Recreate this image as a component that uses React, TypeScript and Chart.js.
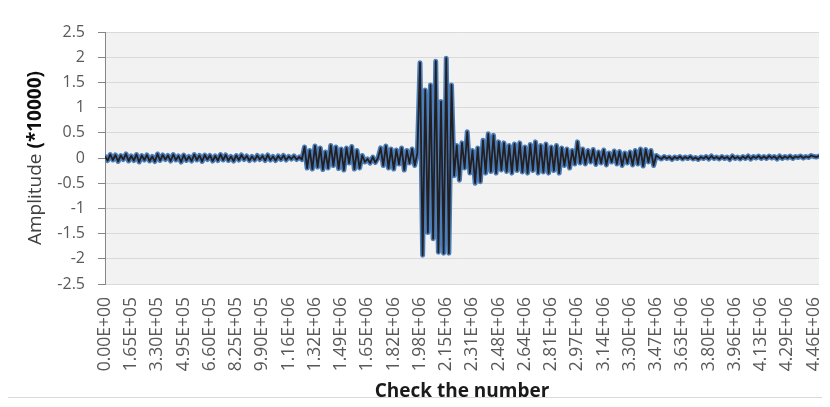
import React, { useEffect, useRef } from 'react';
import { Chart, registerables } from 'chart.js';

Chart.register(...registerables);

// Check-number step between samples and between labelled ticks
const SAMPLE_STEP = 16500;
const LABEL_STEP = 165000;
const LABEL_COUNT = 28;

// Amplitude (*10000) samples
const baselineNoise = [
  0.03, -0.05, 0.07, -0.04, 0.06, -0.07, 0.05, -0.03, 0.08, -0.06,
  0.04, -0.05, 0.07, -0.08, 0.05, -0.04, 0.06, -0.06, 0.03, -0.07,
  0.08, -0.05, 0.06, -0.03, 0.05, -0.06, 0.07, -0.04, 0.04, -0.08,
  0.06, -0.05, 0.03, -0.06, 0.07, -0.04, 0.05, -0.07, 0.06, -0.03,
  0.05, -0.06, 0.04, -0.05, 0.07, -0.04, 0.06, -0.05, 0.03, -0.06,
  0.05, -0.04, 0.06, -0.03, 0.04, -0.05, 0.03, -0.04, 0.05, -0.03,
  0.04, -0.05, 0.06, -0.04, 0.03, -0.05, 0.04, -0.03, 0.05, -0.04,
  0.03, -0.02, 0.04, -0.03, 0.02, -0.03,
];
const preBurstA = [
  0.22, -0.2, 0.15, -0.22, 0.24, -0.18, 0.2, -0.23, 0.12, -0.2, 0.25, -0.15,
  0.22, -0.21, 0.18, -0.24, 0.2, -0.1, 0.23, -0.22, 0.15, -0.2, 0.05,
];
const preBurstLull = [-0.08, -0.02, -0.1, 0.02, -0.09, 0.0];
const preBurstB = [
  0.2, -0.15, 0.24, -0.2, 0.18, -0.22, 0.16, -0.12, 0.2, -0.24, 0.15, -0.1, 0.18, -0.15, 0.1,
];
const mainBurst = [
  1.89, -1.93, 1.35, -1.48, 1.45, -1.6, 1.92, -1.87, 1.12, -1.89, 1.98, -1.89, 1.45, -0.35,
];
const decayRing = [
  0.25, -0.44, 0.3, -0.2, 0.52, -0.3, 0.15, -0.5, 0.2, -0.47,
  0.35, -0.3, 0.48, -0.27, 0.45, -0.3, 0.32, -0.24, 0.3, -0.27,
  0.25, -0.3, 0.28, -0.25, 0.3, -0.28, 0.22, -0.3, 0.27, -0.25,
  0.32, -0.3, 0.25, -0.28, 0.28, -0.3, 0.22, -0.25, 0.25, -0.3,
  0.2, -0.15, 0.18, -0.2, 0.15, -0.12, 0.32,
];
const tailRing = [
  -0.1, 0.18, -0.12, 0.15, -0.08, 0.17, -0.13, 0.12, -0.1, 0.16,
  -0.14, 0.1, -0.08, 0.14, -0.12, 0.13, -0.15, 0.1, -0.1, 0.12,
  -0.14, 0.15, -0.12, 0.18, -0.16, 0.17, -0.08, 0.15, -0.15, 0.05,
];
const quietTail = [
  0.01, -0.02, 0.03, -0.01, 0.02, -0.03, 0.02, -0.01, 0.03, -0.02,
  0.02, -0.01, 0.03, -0.02, 0.01, -0.03, 0.02, -0.01, 0.03, -0.02,
  0.04, -0.01, 0.02, -0.02, 0.03, -0.01, 0.02, -0.03, 0.04, -0.01,
  0.02, -0.02, 0.03, -0.01, 0.04, -0.02, 0.03, 0.0, 0.04, -0.01,
  0.03, -0.01, 0.04, 0.0, 0.03, -0.02, 0.04, -0.01, 0.03, 0.0,
  0.04, -0.01, 0.03, 0.01, 0.04, 0.0, 0.03, 0.01, 0.05, 0.03,
  0.02, 0.04,
];

const amplitude = [
  ...baselineNoise, ...preBurstA, ...preBurstLull, ...preBurstB,
  ...mainBurst, ...decayRing, ...tailRing, ...quietTail,
];

const Y_MIN = -2.5;
const Y_MAX = 2.5;
const Y_STEP = 0.5;

const FONT = "'Open Sans', 'Noto Sans', sans-serif";

function sciLabel(v: number): string {
  const [m, e] = v.toExponential(2).split('e');
  const sign = e[0] === '-' ? '-' : '+';
  const digits = e.replace(/[+-]/, '').padStart(2, '0');
  return `${m}E${sign}${digits}`;
}

const CANVAS_W = 821;
const CANVAS_H = 389;

export default function App() {
  const ref = useRef<HTMLCanvasElement | null>(null);

  useEffect(() => {
    if (!ref.current) return;
    const points = amplitude.map((y, i) => ({ x: i * SAMPLE_STEP, y }));
    const xMax = (amplitude.length - 1) * SAMPLE_STEP;
    const tickValues = Array.from({ length: LABEL_COUNT }, (_, k) => k * LABEL_STEP);

    const plotBg = {
      id: 'plotBg',
      beforeDraw(chart: any) {
        const { ctx, chartArea } = chart;
        ctx.save();
        ctx.fillStyle = '#ffffff';
        ctx.fillRect(0, 0, chart.width, chart.height);
        ctx.fillStyle = '#f2f2f2';
        ctx.fillRect(chartArea.left, chartArea.top, chartArea.right - chartArea.left, chartArea.bottom - chartArea.top);
        ctx.restore();
      },
    };

    const titles = {
      id: 'titles',
      afterDraw(chart: any) {
        const { ctx, chartArea } = chart;
        ctx.save();
        ctx.font = `bold 19px ${FONT}`;
        ctx.fillStyle = '#1a1a1a';
        ctx.textAlign = 'center';
        ctx.textBaseline = 'middle';
        ctx.fillText('Check the number', (chartArea.left + chartArea.right) / 2, 384);
        const part1 = 'Amplitude ';
        const part2 = '(*10000)';
        ctx.font = `19px ${FONT}`;
        const w1 = ctx.measureText(part1).width;
        ctx.font = `bold 19px ${FONT}`;
        const w2 = ctx.measureText(part2).width;
        const total = w1 + w2;
        const cy = (chartArea.top + chartArea.bottom) / 2;
        ctx.translate(28, cy);
        ctx.rotate(-Math.PI / 2);
        ctx.textAlign = 'left';
        ctx.font = `19px ${FONT}`;
        ctx.fillStyle = '#404040';
        ctx.fillText(part1, -total / 2, 0);
        ctx.font = `bold 19px ${FONT}`;
        ctx.fillStyle = '#0d0d0d';
        ctx.fillText(part2, -total / 2 + w1, 0);
        ctx.restore();
      },
    };

    const chart = new Chart(ref.current, {
      type: 'line',
      data: {
        datasets: [
          {
            label: 'core',
            data: points,
            borderColor: '#231f20',
            borderWidth: 1.8,
            pointRadius: 0,
            tension: 0,
            borderJoinStyle: 'round',
            borderCapStyle: 'round',
            order: 0,
          },
          {
            label: 'outline',
            data: points,
            borderColor: '#4a7ebb',
            borderWidth: 5,
            pointRadius: 0,
            tension: 0,
            borderJoinStyle: 'round',
            borderCapStyle: 'round',
            order: 1,
          },
        ],
      },
      options: {
        animation: false,
        responsive: false,
        devicePixelRatio: 1,
        layout: { padding: { top: 24, right: 10, left: 0, bottom: 0 } },
        plugins: {
          legend: { display: false },
          tooltip: { enabled: false },
        },
        scales: {
          x: {
            type: 'linear',
            min: 0,
            max: xMax,
            afterBuildTicks: (s: any) => { s.ticks = tickValues.map((v) => ({ value: v })); },
            afterFit: (s: any) => { s.height = 113; s.paddingLeft = 0; s.paddingRight = 0; },
            grid: { display: false, drawTicks: false },
            border: { display: false },
            ticks: {
              autoSkip: false,
              minRotation: 90,
              maxRotation: 90,
              padding: 13,
              color: '#595959',
              font: { family: FONT, size: 17.5 },
              callback: (v: any) => sciLabel(Number(v)),
            },
          },
          y: {
            type: 'linear',
            min: Y_MIN,
            max: Y_MAX,
            afterFit: (s: any) => { s.width = 97; s.paddingTop = 0; s.paddingBottom = 0; },
            grid: { color: '#d9d9d9', lineWidth: 1, drawTicks: true, tickLength: 7, tickColor: '#868686' },
            border: { display: true, color: '#868686', width: 1 },
            ticks: {
              stepSize: Y_STEP,
              padding: 13,
              color: '#595959',
              font: { family: FONT, size: 16 },
              callback: (v: any) => String(+Number(v).toFixed(2)),
            },
          },
        },
      },
      plugins: [plotBg, titles],
    } as any);
    return () => chart.destroy();
  }, []);

  return (
    <div
      style={{
        width: CANVAS_W + 2,
        height: CANVAS_H + 2,
        margin: '-1px 0 0 -1px',
        border: '1px solid #d9d9d9',
        boxSizing: 'border-box',
      }}
    >
      <canvas ref={ref} width={CANVAS_W} height={CANVAS_H} style={{ display: 'block', width: CANVAS_W, height: CANVAS_H }} />
    </div>
  );
}
